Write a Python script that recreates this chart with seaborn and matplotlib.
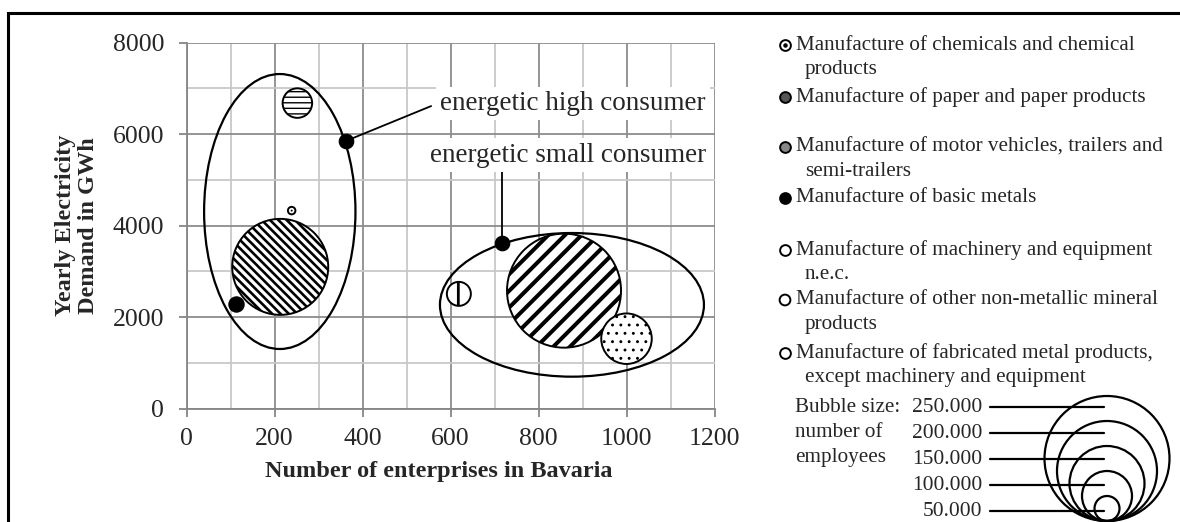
import matplotlib
matplotlib.use("Agg")
import matplotlib.pyplot as plt
import seaborn as sns
from matplotlib.patches import Ellipse, Circle

# bubble data
industries = [
    "Manufacture of chemicals and chemical products",
    "Manufacture of paper and paper products",
    "Manufacture of motor vehicles, trailers and semi-trailers",
    "Manufacture of basic metals",
    "Manufacture of machinery and equipment n.e.c.",
    "Manufacture of other non-metallic mineral products",
    "Manufacture of fabricated metal products, except machinery and equipment",
]
enterprises = [239, 252, 213, 112, 858, 619, 1000]
demand_gwh = [4330, 6680, 3100, 2290, 2580, 2510, 1530]
employees = [15000, 59000, 192000, 29000, 228000, 48000, 101000]

# legend text, wrapped as in the picture
legend_lines = [
    ["Manufacture of chemicals and chemical", "products"],
    ["Manufacture of paper and paper products"],
    ["Manufacture of motor vehicles, trailers and", "semi-trailers"],
    ["Manufacture of basic metals"],
    ["Manufacture of machinery and equipment", "n.e.c."],
    ["Manufacture of other non-metallic mineral", "products"],
    ["Manufacture of fabricated metal products,", "except machinery and equipment"],
]

size_ref = [250000, 200000, 150000, 100000, 50000]
size_ref_labels = ["250.000", "200.000", "150.000", "100.000", "50.000"]
size_title = ["Bubble size:", "number of", "employees"]

# consumer groups (ellipses): center x, center y, width, height
groups = ["energetic high consumer", "energetic small consumer"]
group_cx = [212, 876]
group_cy = [4310, 2270]
group_w = [344, 600]
group_h = [6010, 3140]
# callout end points on the ellipses
callout_x = [362, 718]
callout_y = [5851, 3615]

PX_PER_EMP = 0.25 / 1000  # bubble radius in pixels per employee
DPI = 100

sns.set_style("white")
plt.rcParams["font.family"] = ["Liberation Serif", "DejaVu Serif"]
plt.rcParams["hatch.color"] = "black"

fig = plt.figure(figsize=(11.8, 5.22), dpi=DPI)
ax = fig.add_axes([186.5 / 1180, 1 - 408.7 / 522, 528 / 1180, 366 / 522])

styles = [
    dict(hatch="..", hlw=0.6),
    dict(hatch="---", hlw=1.0),
    dict(hatch="\\\\\\\\", hlw=1.9),
    dict(hatch=None, hlw=1.0),
    dict(hatch="//", hlw=2.9),
    dict(hatch="|", hlw=2.0),
    dict(hatch="..", hlw=0.9),
]


def area_pt2(emp):
    d_pt = 2 * emp * PX_PER_EMP * 72 / DPI
    return d_pt ** 2


for i, name in enumerate(industries):
    st = styles[i]
    face = "black" if i == 3 else "white"
    with plt.rc_context({"hatch.linewidth": st["hlw"]}):
        sns.scatterplot(x=[enterprises[i]], y=[demand_gwh[i]], s=area_pt2(employees[i]),
                        color=face, edgecolor="black", linewidth=1.4,
                        hatch=st["hatch"], zorder=4, ax=ax, legend=False)
        coll = ax.collections[-1]
        if hasattr(coll, "set_hatch_linewidth"):
            coll.set_hatch_linewidth(st["hlw"])
# centre dot of the small chemicals bubble
sns.scatterplot(x=[enterprises[0]], y=[demand_gwh[0]], s=2, color="black",
                edgecolor="none", zorder=5, ax=ax, legend=False)

for i in range(len(groups)):
    ax.add_patch(Ellipse((group_cx[i], group_cy[i]), group_w[i], group_h[i],
                         fill=False, edgecolor="black", lw=1.6, zorder=3))

# callouts
sns.scatterplot(x=callout_x, y=callout_y, s=area_pt2(29000), color="black",
                edgecolor="black", zorder=6, ax=ax, legend=False)
ax.plot([callout_x[0], 556], [callout_y[0], 6615], color="black", lw=1.3, zorder=5)
ax.plot([callout_x[1], callout_x[1]], [callout_y[1], 5200], color="black", lw=1.3, zorder=5)
box = dict(facecolor="white", edgecolor="none", pad=3)
ax.text(576, 6680, groups[0], fontsize=19.5, ha="left", va="center", bbox=box, zorder=7)
ax.text(867, 5545, groups[1], fontsize=19.5, ha="center", va="center", bbox=box, zorder=7)

ax.set_xlim(0, 1200)
ax.set_ylim(0, 8000)
ax.set_xticks(range(0, 1201, 200))
ax.set_xticks(range(0, 1201, 100), minor=True)
ax.set_yticks(range(0, 8001, 2000))
ax.set_yticks(range(0, 8001, 1000), minor=True)
ax.grid(which="major", color="#8c8c8c", lw=1.3)
ax.grid(which="minor", color="#c8c8c8", lw=1.3)
ax.set_axisbelow(True)
for side in ["top", "right"]:
    ax.spines[side].set_visible(False)
for side in ["left", "bottom"]:
    ax.spines[side].set_color("#868686")
    ax.spines[side].set_linewidth(1.3)
ax.tick_params(which="major", direction="out", length=6, width=1.3, color="#868686",
               labelsize=18.5, pad=8, left=True, bottom=True)
ax.tick_params(axis="y", pad=10)
ax.tick_params(which="minor", length=0)
ax.set_xlabel("Number of enterprises in Bavaria", fontsize=17.5, fontweight="bold")
ax.set_ylabel("Yearly Electricity\nDemand in GWh", fontsize=17.5, fontweight="bold",
              linespacing=1.15)
ax.xaxis.set_label_coords(0.477, -0.143)
ax.yaxis.set_label_coords(-0.165, 0.5)

# overlay in pixel coordinates for legend and frame
ov = fig.add_axes([0, 0, 1, 1], zorder=10)
ov.set_xlim(0, 1180)
ov.set_ylim(522, 0)
ov.axis("off")

ov.plot([8, 8, 1180], [522, 13, 13], color="black", lw=2.2, solid_joinstyle="miter")

legend_y = [45, 97, 147, 198, 250, 300, 353]
icon_face = ["white", "#555555", "#888888", "black", "white", "white", "white"]
icon_hatch = [None, None, None, None, None, "|", None]
for i, lines in enumerate(legend_lines):
    y0 = legend_y[i]
    ov.scatter([785], [y0], s=60, facecolor=icon_face[i], edgecolor="black",
               linewidth=1.4, hatch=icon_hatch[i], zorder=3)
    if i == 0:
        ov.scatter([785], [y0], s=5, color="black", zorder=4)
    for k, line in enumerate(lines):
        ov.text(796 if k == 0 else 805, y0 + k * 24.5, line, fontsize=15.2,
                ha="left", va="center")

for k, line in enumerate(size_title):
    ov.text(795, 407 + k * 25.3, line, fontsize=15.2, ha="left", va="center")
size_label_y = [407, 433, 459, 485, 511]
circle_cx, circle_bottom = 1107, 521
for v, lab, ly in zip(size_ref, size_ref_labels, size_label_y):
    r = v * PX_PER_EMP
    ov.add_patch(Circle((circle_cx, circle_bottom - r), r, fill=False,
                        edgecolor="black", lw=1.6))
    ov.text(982, ly, lab, fontsize=15.5, ha="right", va="center")
    ov.plot([990, 1104], [ly, ly], color="black", lw=1.6)

fig.savefig("out.png", dpi=DPI)
